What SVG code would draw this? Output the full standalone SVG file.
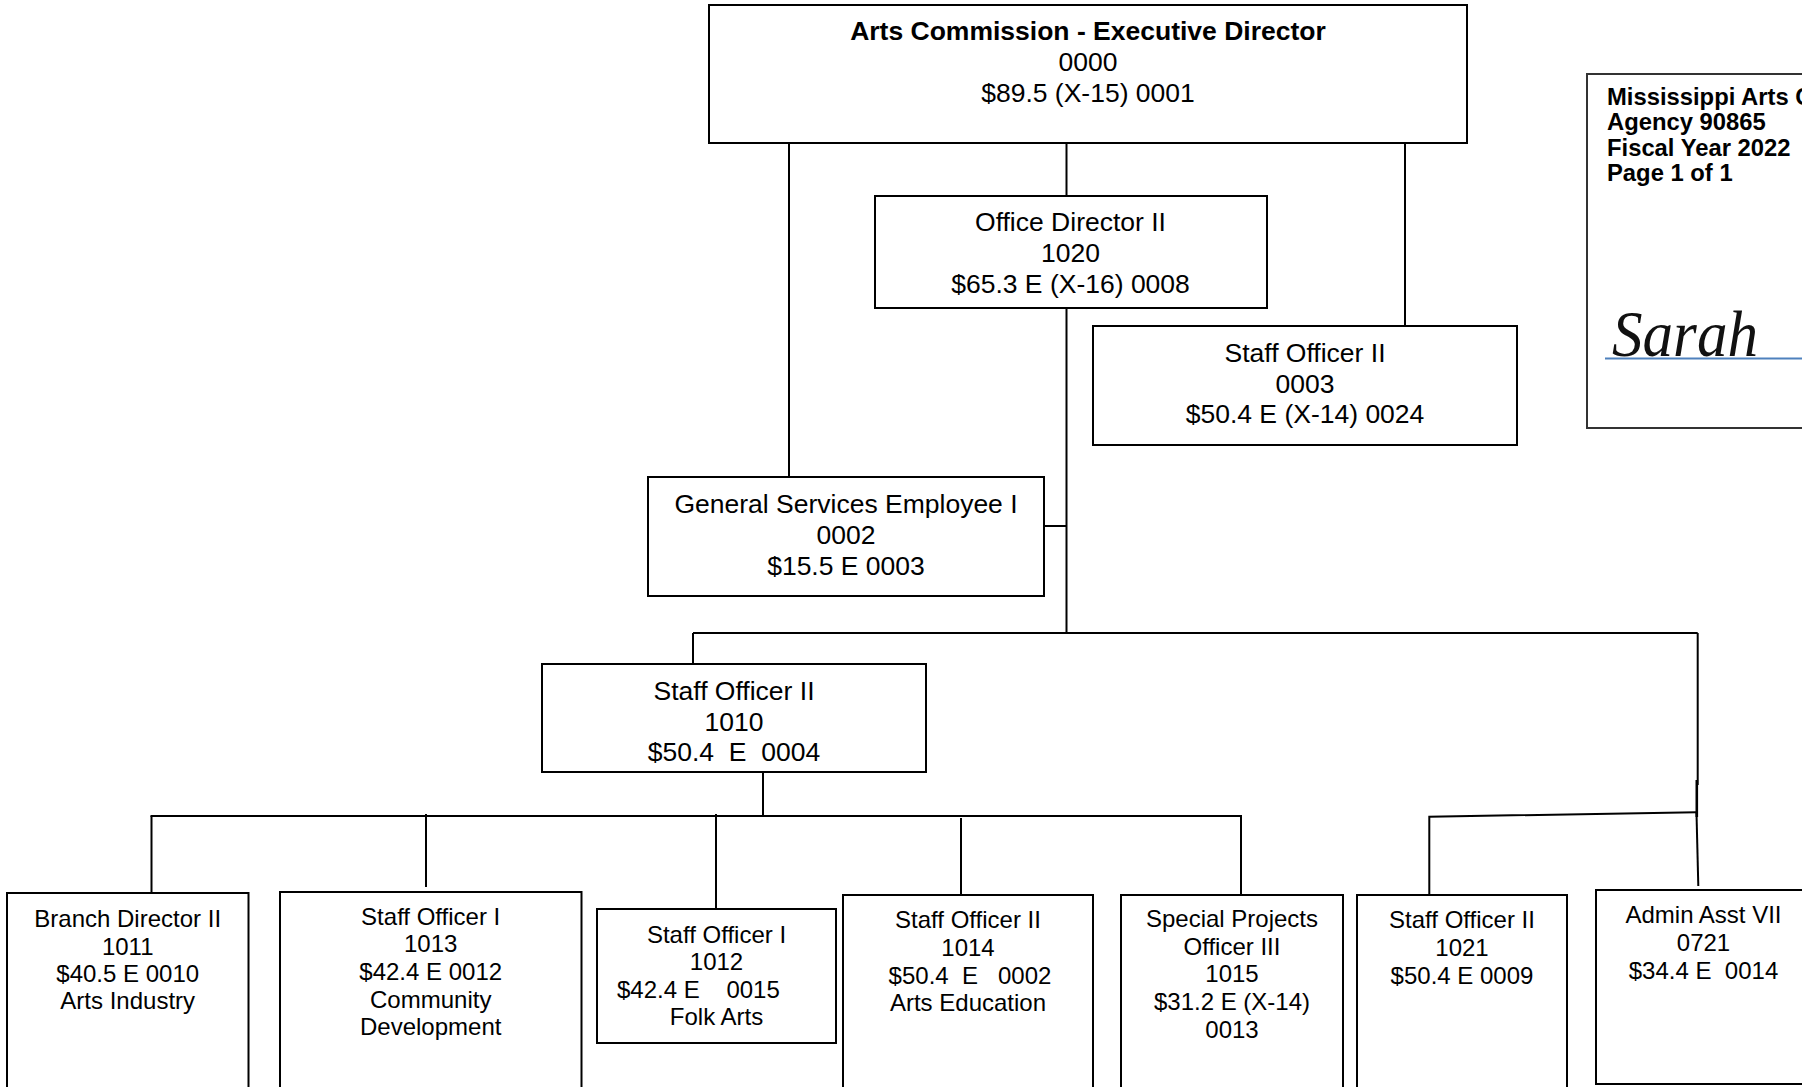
<svg xmlns="http://www.w3.org/2000/svg" width="1802" height="1087" viewBox="0 0 1802 1087">
<style>
.box{fill:#fff;stroke:#000;stroke-width:2}
.t{font-family:"Liberation Sans",Arial,sans-serif;font-size:26.5px;fill:#000;text-anchor:middle}
.s{font-family:"Liberation Sans",Arial,sans-serif;font-size:24px;fill:#000;text-anchor:middle}
.b{font-weight:bold}
.lg{font-family:"Liberation Sans",Arial,sans-serif;font-size:23.8px;font-weight:bold;fill:#000}
#connectors path{fill:none;stroke:#000;stroke-width:2}
</style>
<rect width="1802" height="1087" fill="#fff"/>
<g id="connectors">
<path d="M789,143V477"/>
<path d="M1066.5,143V196"/>
<path d="M1405,143V326"/>
<path d="M1066.5,308V633"/>
<path d="M1044,526H1066.5"/>
<path d="M693,633H1697.7"/>
<path d="M693,633V664"/>
<path d="M1697.7,633V785"/>
<path d="M1696.8,780V817" style="stroke-width:2.6"/>
<path d="M1696.5,813L1698.3,886"/>
<path d="M1429.3,895V816.7L1696.5,812.3"/>
<path d="M763,772V816"/>
<path d="M150.5,816H1242"/>
<path d="M151.5,816V893"/>
<path d="M426,814V887"/>
<path d="M716,814V909"/>
<path d="M961,818V895"/>
<path d="M1241,816V895"/>
</g>
<g id="exec">
<rect class="box" x="709" y="5" width="758" height="138"/>
<text class="t b" x="1088" y="40">Arts Commission - Executive Director</text>
<text class="t" x="1088" y="71">0000</text>
<text class="t" x="1088" y="102">$89.5 (X-15) 0001</text>
</g>
<g id="office-director">
<rect class="box" x="875" y="196" width="392" height="112"/>
<text class="t" x="1070.5" y="231">Office Director II</text>
<text class="t" x="1070.5" y="262">1020</text>
<text class="t" x="1070.5" y="293">$65.3 E (X-16) 0008</text>
</g>
<g id="staff-officer-0003">
<rect class="box" x="1093" y="326" width="424" height="119"/>
<text class="t" x="1305" y="362">Staff Officer II</text>
<text class="t" x="1305" y="392.5">0003</text>
<text class="t" x="1305" y="423">$50.4 E (X-14) 0024</text>
</g>
<g id="gse">
<rect class="box" x="648" y="477" width="396" height="119"/>
<text class="t" x="846" y="513">General Services Employee I</text>
<text class="t" x="846" y="544">0002</text>
<text class="t" x="846" y="574.5">$15.5 E 0003</text>
</g>
<g id="staff-officer-1010">
<rect class="box" x="542" y="664" width="384" height="108"/>
<text class="t" x="734" y="700">Staff Officer II</text>
<text class="t" x="734" y="730.5">1010</text>
<text class="t" x="734" y="761" xml:space="preserve">$50.4  E  0004</text>
</g>
<g id="branch-1011">
<rect class="box" x="7" y="893" width="241.5" height="210"/>
<text class="s" x="127.7" y="927">Branch Director II</text>
<text class="s" x="127.7" y="954.5">1011</text>
<text class="s" x="127.7" y="982">$40.5 E 0010</text>
<text class="s" x="127.7" y="1009">Arts Industry</text>
</g>
<g id="staff-1013">
<rect class="box" x="280" y="892" width="301.5" height="210"/>
<text class="s" x="430.7" y="924.5">Staff Officer I</text>
<text class="s" x="430.7" y="952.2">1013</text>
<text class="s" x="430.7" y="979.9">$42.4 E 0012</text>
<text class="s" x="430.7" y="1007.6">Community</text>
<text class="s" x="430.7" y="1035.3">Development</text>
</g>
<g id="staff-1012">
<rect class="box" x="597" y="909" width="239" height="134"/>
<text class="s" x="716.5" y="942.5">Staff Officer I</text>
<text class="s" x="716.5" y="970">1012</text>
<text class="s" x="617" y="997.5" style="text-anchor:start" xml:space="preserve">$42.4 E    0015</text>
<text class="s" x="716.5" y="1025">Folk Arts</text>
</g>
<g id="staff-1014">
<rect class="box" x="843" y="895" width="250" height="210"/>
<text class="s" x="968" y="928.3">Staff Officer II</text>
<text class="s" x="968" y="956">1014</text>
<text class="s" x="970" y="983.5" xml:space="preserve">$50.4  E   0002</text>
<text class="s" x="968" y="1010.8">Arts Education</text>
</g>
<g id="special-1015">
<rect class="box" x="1121" y="895" width="222" height="210"/>
<text class="s" x="1232" y="926.7">Special Projects</text>
<text class="s" x="1232" y="954.5">Officer III</text>
<text class="s" x="1232" y="982.2">1015</text>
<text class="s" x="1232" y="1009.9">$31.2 E (X-14)</text>
<text class="s" x="1232" y="1037.6">0013</text>
</g>
<g id="staff-1021">
<rect class="box" x="1357" y="895" width="210" height="210"/>
<text class="s" x="1462" y="928.3">Staff Officer II</text>
<text class="s" x="1462" y="956">1021</text>
<text class="s" x="1462" y="983.7">$50.4 E 0009</text>
</g>
<g id="admin-0721">
<rect class="box" x="1596" y="890" width="214" height="194"/>
<text class="s" x="1703.5" y="923.3">Admin Asst VII</text>
<text class="s" x="1703.5" y="951">0721</text>
<text class="s" x="1703.5" y="978.5" xml:space="preserve">$34.4 E  0014</text>
</g>
<g id="legend">
<rect x="1587" y="74" width="240" height="354" fill="#fff" stroke="#333" stroke-width="2"/>
<text class="lg" x="1607" y="105">Mississippi Arts Commission</text>
<text class="lg" x="1607" y="130.3">Agency 90865</text>
<text class="lg" x="1607" y="155.6">Fiscal Year 2022</text>
<text class="lg" x="1607" y="181">Page 1 of 1</text>
<text x="1612" y="356" font-family="'Liberation Serif',serif" font-style="italic" font-size="66" fill="#111" textLength="146" lengthAdjust="spacingAndGlyphs">Sarah</text>
<line x1="1605" y1="358.5" x2="1802" y2="358.5" stroke="#4f81bd" stroke-width="2"/>
</g>
</svg>
